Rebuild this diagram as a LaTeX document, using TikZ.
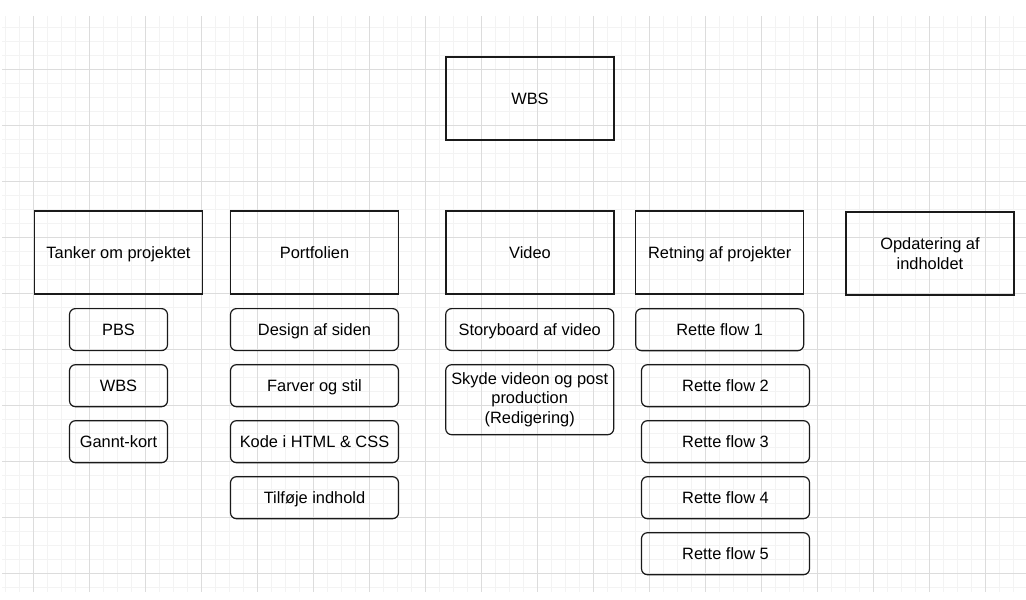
\documentclass[tikz,border=0pt]{standalone}
\usepackage{fontspec}
\setmainfont{Liberation Sans}
\definecolor{gridminor}{HTML}{F3F3F3}
\definecolor{gridmajor}{HTML}{DCDCDC}
\definecolor{boxline}{HTML}{1A1A1A}
\tikzset{
  boxfont/.style={font=\fontsize{16.4}{19.4}\selectfont},
  oneline/.style={text height=11.7pt, text depth=0pt},
  head/.style={draw=boxline, line width=1.2pt, rectangle, minimum width=168pt, minimum height=83pt, align=center, inner sep=2pt, boxfont},
  task/.style={draw=boxline, line width=1.2pt, rectangle, rounded corners=6pt, minimum width=168pt, minimum height=42pt, align=center, inner sep=2pt, boxfont},
  minorline/.style={draw=gridminor, line width=0.8pt},
  majorline/.style={draw=gridmajor, line width=0.9pt}
}
\begin{document}
\begin{tikzpicture}[x=1pt, y=-1pt]
\useasboundingbox (0,0) rectangle (1026,600);
\fill[white] (0,0) rectangle (1026,600);
% minor grid
\foreach \i in {0,...,73} {\draw[minorline] ({5.3+14*\i},16) -- ({5.3+14*\i},592);}
\foreach \j in {0,...,40} {\draw[minorline] (2,{27.5+14*\j}) -- (1026,{27.5+14*\j});}
% major grid
\foreach \i in {0,...,17} {\draw[majorline] ({33.3+56*\i},16) -- ({33.3+56*\i},592);}
\foreach \j in {0,...,9} {\draw[majorline] (2,{69.5+56*\j}) -- (1026,{69.5+56*\j});}

\node[head, oneline] (wbs) at (530,98.5) {WBS};
\node[head, oneline] (tanker) at (118.5,252.5) {Tanker om projektet};
\node[head, oneline] (portf) at (314.5,252.5) {Portfolien};
\node[head, oneline] (video) at (530,252.5) {Video};
\node[head, oneline] (retning) at (719.7,252.5) {Retning af projekter};
\node[head] (opdat) at (930,253.5) {Opdatering af\\indholdet};

\node[task, oneline, minimum width=98pt] (pbs) at (118.5,329.6) {PBS};
\node[task, oneline, minimum width=98pt] (wbs2) at (118.5,385.7) {WBS};
\node[task, oneline, minimum width=98pt] (gannt) at (118.5,441.7) {Gannt-kort};

\node[task, oneline] (design) at (314.5,329.6) {Design af siden};
\node[task, oneline] (farver) at (314.5,385.7) {Farver og stil};
\node[task, oneline] (kode) at (314.5,441.7) {Kode i HTML \& CSS};
\node[task, oneline] (tilfoje) at (314.5,497.7) {Tilføje indhold};

\node[task, oneline] (story) at (529.7,329.6) {Storyboard af video};
\node[task, minimum height=70pt] (skyde) at (529.7,399.7) {Skyde videon og post\\production\\(Redigering)};

\node[task, oneline] (flow1) at (719.7,329.7) {Rette flow 1};
\node[task, oneline] (flow2) at (725.5,385.7) {Rette flow 2};
\node[task, oneline] (flow3) at (725.5,441.7) {Rette flow 3};
\node[task, oneline] (flow4) at (725.5,497.7) {Rette flow 4};
\node[task, oneline] (flow5) at (725.5,553.7) {Rette flow 5};
\end{tikzpicture}
\end{document}
